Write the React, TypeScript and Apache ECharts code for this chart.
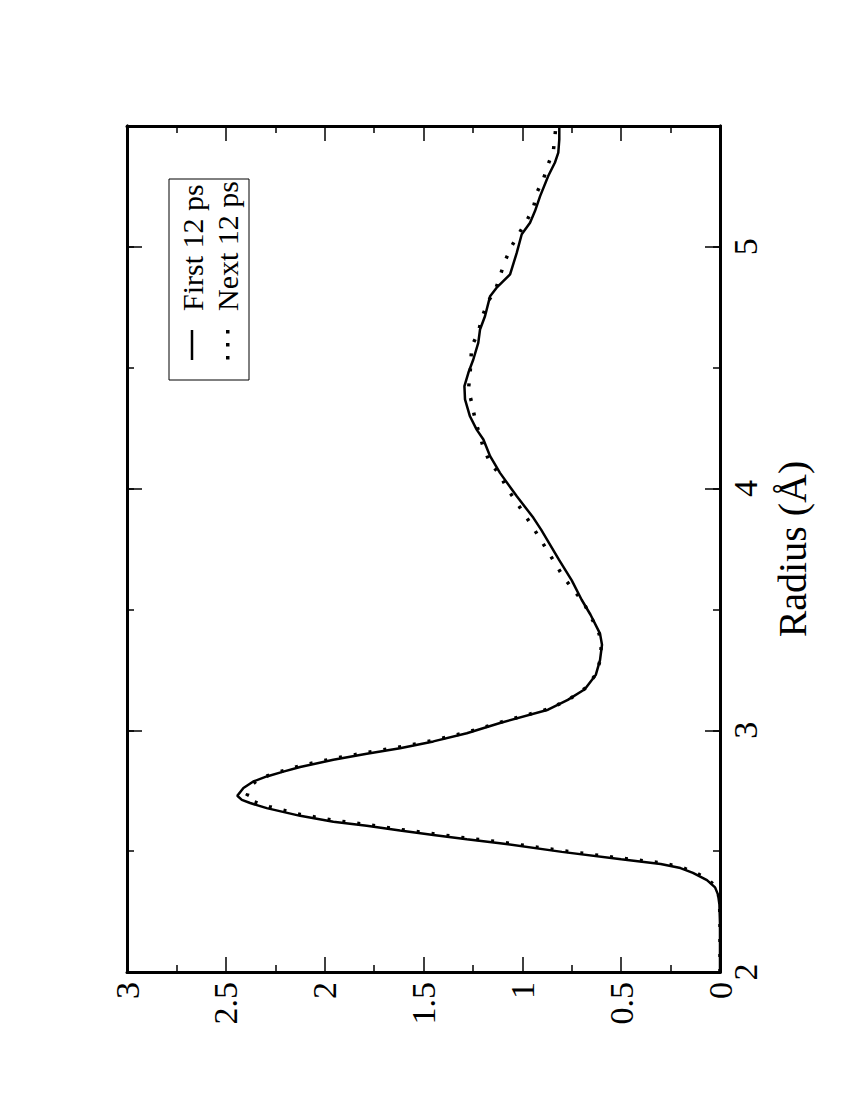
import React, { useEffect, useRef } from 'react';
import * as echarts from 'echarts';

// Radial distribution: radius (Å) and g(r) for the two time windows
const radiusFirst = [2.0, 2.1, 2.2, 2.28, 2.32, 2.35, 2.38, 2.41, 2.43, 2.447, 2.466, 2.497, 2.533, 2.549, 2.567, 2.585, 2.605, 2.622, 2.646, 2.678, 2.699, 2.712, 2.729, 2.761, 2.788, 2.809, 2.829, 2.848, 2.878, 2.903, 2.926, 2.954, 2.988, 3.03, 3.085, 3.126, 3.17, 3.23, 3.29, 3.354, 3.4, 3.478, 3.54, 3.62, 3.706, 3.768, 3.83, 3.879, 3.968, 4.065, 4.134, 4.203, 4.244, 4.299, 4.369, 4.424, 4.479, 4.534, 4.603, 4.658, 4.713, 4.796, 4.831, 4.852, 4.886, 4.976, 5.052, 5.1, 5.148, 5.21, 5.293, 5.349, 5.39, 5.445, 5.5];
const gFirst = [0, 0, 0, 0.003, 0.01, 0.025, 0.066, 0.137, 0.2, 0.3, 0.5, 0.8, 1.113, 1.281, 1.45, 1.619, 1.787, 1.956, 2.124, 2.293, 2.377, 2.419, 2.442, 2.411, 2.361, 2.293, 2.209, 2.124, 1.956, 1.787, 1.619, 1.45, 1.281, 1.113, 0.87, 0.77, 0.684, 0.628, 0.607, 0.597, 0.607, 0.655, 0.7, 0.75, 0.815, 0.86, 0.905, 0.944, 1.028, 1.113, 1.163, 1.197, 1.231, 1.265, 1.29, 1.293, 1.273, 1.248, 1.223, 1.214, 1.189, 1.163, 1.13, 1.104, 1.062, 1.028, 1.003, 0.961, 0.936, 0.91, 0.869, 0.835, 0.818, 0.813, 0.813];

const radiusNext = [2.0, 2.1, 2.2, 2.28, 2.32, 2.35, 2.38, 2.41, 2.435, 2.452, 2.471, 2.502, 2.538, 2.554, 2.572, 2.59, 2.61, 2.628, 2.652, 2.684, 2.705, 2.72, 2.735, 2.766, 2.794, 2.815, 2.835, 2.854, 2.884, 2.909, 2.932, 2.96, 2.994, 3.036, 3.09, 3.13, 3.175, 3.235, 3.295, 3.36, 3.41, 3.48, 3.528, 3.631, 3.739, 3.851, 3.963, 4.003, 4.058, 4.106, 4.169, 4.286, 4.355, 4.41, 4.465, 4.589, 4.645, 4.707, 4.776, 4.817, 4.879, 4.941, 5.003, 5.052, 5.107, 5.162, 5.224, 5.279, 5.342, 5.397, 5.459, 5.5];
const gNext = [0, 0, 0, 0.002, 0.008, 0.02, 0.055, 0.12, 0.2, 0.3, 0.5, 0.8, 1.113, 1.281, 1.45, 1.619, 1.787, 1.956, 2.124, 2.28, 2.36, 2.4, 2.39, 2.38, 2.34, 2.28, 2.2, 2.12, 1.95, 1.78, 1.61, 1.44, 1.27, 1.1, 0.86, 0.76, 0.68, 0.625, 0.605, 0.6, 0.615, 0.66, 0.69, 0.79, 0.87, 0.955, 1.045, 1.08, 1.113, 1.163, 1.197, 1.239, 1.256, 1.273, 1.265, 1.256, 1.223, 1.205, 1.172, 1.138, 1.113, 1.088, 1.054, 1.02, 0.978, 0.944, 0.927, 0.894, 0.869, 0.843, 0.835, 0.83];

const seriesNames = ['First 12 ps', 'Next 12 ps'];
const radiusTitle = 'Radius (Å)';

const FONT = 'Liberation Serif';

export default function App() {
  const ref = useRef<HTMLDivElement>(null);

  useEffect(() => {
    if (!ref.current) return;
    const chart = echarts.init(ref.current, null, { renderer: 'svg' });

    const line = { show: true, onZero: false, lineStyle: { color: '#000', width: 3 } };
    const tickStyle = { color: '#000', width: 1.5 };

    const xBase = {
      type: 'value',
      inverse: true,
      min: 0,
      max: 3,
      interval: 0.5,
      axisLine: line,
      axisTick: { show: true, inside: true, length: 15, lineStyle: tickStyle },
      minorTick: { show: true, splitNumber: 2, length: 7, lineStyle: tickStyle },
      splitLine: { show: false },
      minorSplitLine: { show: false },
    };

    const yMajor = {
      type: 'value',
      min: 2,
      max: 5.5,
      interval: 1,
      axisLine: line,
      axisTick: { show: true, inside: true, length: 15, lineStyle: tickStyle },
      splitLine: { show: false },
    };
    const yMinor = {
      type: 'value',
      min: 2,
      max: 5.5,
      interval: 0.5,
      axisLine: line,
      axisTick: { show: true, inside: true, length: 7, lineStyle: tickStyle },
      axisLabel: { show: false },
      splitLine: { show: false },
    };

    chart.setOption({
      animation: false,
      backgroundColor: '#fff',
      textStyle: { fontFamily: FONT },
      grid: { left: 127, top: 126, width: 593, height: 846, containLabel: false },
      xAxis: [
        {
          ...xBase,
          position: 'bottom',
          axisLabel: { show: true, rotate: 90, fontSize: 34, fontFamily: FONT, color: '#000', margin: 10 },
        },
        { ...xBase, position: 'top', axisLabel: { show: false } },
      ],
      yAxis: [
        {
          ...yMajor,
          position: 'right',
          axisLabel: {
            show: true,
            rotate: 90,
            fontSize: 34,
            fontFamily: FONT,
            color: '#000',
            margin: 8,
            formatter: (v: number) => (v === 5.5 ? '' : String(v)),
          },
          name: radiusTitle,
          nameLocation: 'middle',
          nameRotate: 90,
          nameGap: 52,
          nameTextStyle: { fontSize: 40, fontFamily: FONT, color: '#000' },
        },
        { ...yMinor, position: 'right' },
        { ...yMajor, position: 'left', axisLabel: { show: false } },
        { ...yMinor, position: 'left' },
      ],
      series: [
        {
          name: seriesNames[0],
          type: 'line',
          xAxisIndex: 0,
          yAxisIndex: 0,
          data: gFirst.map((g, i) => [g, radiusFirst[i]]),
          symbol: 'none',
          smooth: false,
          clip: true,
          lineStyle: { color: '#000', width: 2.5 },
          z: 3,
        },
        {
          name: seriesNames[1],
          type: 'line',
          xAxisIndex: 0,
          yAxisIndex: 0,
          data: gNext.map((g, i) => [g, radiusNext[i]]),
          symbol: 'none',
          smooth: false,
          clip: true,
          lineStyle: { color: '#000', width: 3.5, type: [3, 12], cap: 'butt' },
          z: 2,
        },
      ],
      graphic: [
        {
          type: 'group',
          children: [
            {
              type: 'rect',
              shape: { x: 169, y: 179, width: 80, height: 201 },
              style: { fill: '#fff', stroke: '#000', lineWidth: 1 },
            },
            {
              type: 'line',
              shape: { x1: 192, y1: 330, x2: 192, y2: 360 },
              style: { stroke: '#000', lineWidth: 2.5 },
            },
            { type: 'rect', shape: { x: 226, y: 330, width: 3.5, height: 3.5 }, style: { fill: '#000' } },
            { type: 'rect', shape: { x: 226, y: 343, width: 3.5, height: 3.5 }, style: { fill: '#000' } },
            { type: 'rect', shape: { x: 226, y: 356, width: 3.5, height: 3.5 }, style: { fill: '#000' } },
            {
              type: 'text',
              x: 192,
              y: 311,
              rotation: Math.PI / 2,
              style: {
                text: seriesNames[0],
                fontSize: 30,
                fontFamily: FONT,
                fill: '#000',
                textAlign: 'left',
                textVerticalAlign: 'middle',
              },
            },
            {
              type: 'text',
              x: 227,
              y: 311,
              rotation: Math.PI / 2,
              style: {
                text: seriesNames[1],
                fontSize: 30,
                fontFamily: FONT,
                fill: '#000',
                textAlign: 'left',
                textVerticalAlign: 'middle',
              },
            },
          ],
        },
      ],
    });

    return () => chart.dispose();
  }, []);

  return (
    <div
      ref={ref}
      style={{ position: 'fixed', left: 0, top: 0, width: 850, height: 1100, background: '#fff' }}
    />
  );
}
